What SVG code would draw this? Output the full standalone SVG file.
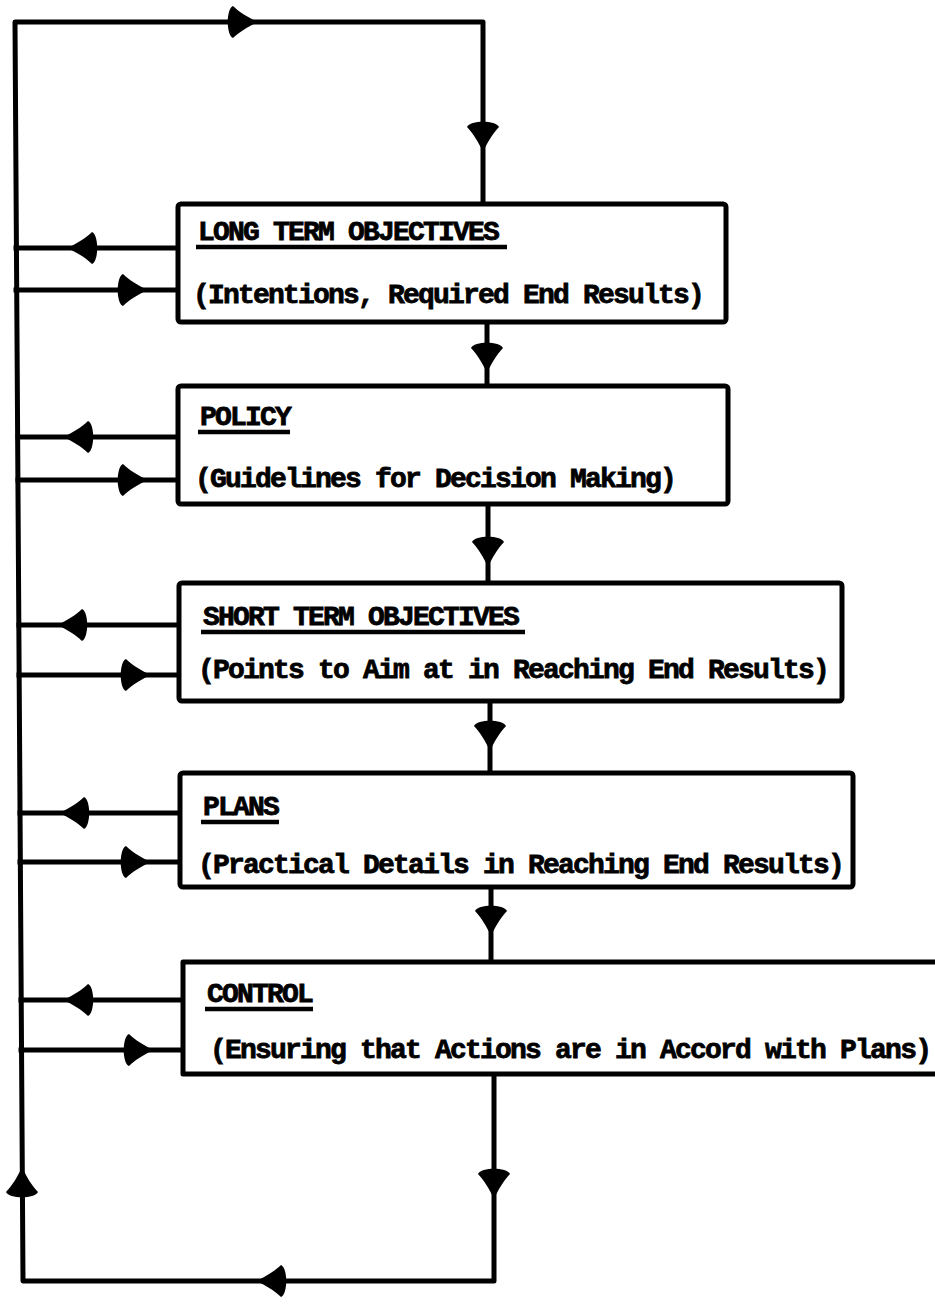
<svg xmlns="http://www.w3.org/2000/svg" xmlns:xlink="http://www.w3.org/1999/xlink" width="935" height="1305" viewBox="0 0 935 1305">
  <style>
    .ln { fill: none; stroke: #000; stroke-width: 5; stroke-linejoin: round; stroke-linecap: square; }
    .box { fill: #fff; stroke: #000; stroke-width: 5; stroke-linejoin: round; }
    .ttl, .sub { font-family: "Courier New", "Liberation Mono", monospace; font-weight: bold; font-size: 28px; letter-spacing: -1.8px; fill: #000; stroke: #000; stroke-width: 0.8; }
    .ul { stroke: #000; stroke-width: 4.5; }
  </style>
  <defs>
    <!-- teardrop arrowhead, tip at origin, pointing along +x -->
    <path id="ah" d="M2,0 C-7,-4 -17,-10 -23,-16 C-30,-13 -30,13 -23,16 C-17,10 -7,4 2,0 Z" fill="#000"/>
  </defs>
  <rect width="935" height="1305" fill="#fff"/>

  <g id="connectors">
    <!-- outer feedback loop -->
    <path class="ln" d="M494,1074 V1281 H23 L15,22 H483 V204"/>
    <!-- chain between boxes -->
    <path class="ln" d="M487,322 V386"/>
    <path class="ln" d="M488,504 V583"/>
    <path class="ln" d="M490,701 V773"/>
    <path class="ln" d="M491,887 V962"/>
    <!-- side links to the left rail -->
    <path class="ln" d="M16,248 H178 M16,290 H178"/>
    <path class="ln" d="M18,437 H178 M18,480 H178"/>
    <path class="ln" d="M19,625 H179 M19,675 H179"/>
    <path class="ln" d="M20,813 H180 M20,862 H180"/>
    <path class="ln" d="M21,1000 H183 M21,1050 H183"/>
    <!-- arrowheads -->
    <use xlink:href="#ah" transform="translate(256,22)"/>
    <use xlink:href="#ah" transform="translate(483,150) rotate(90)"/>
    <use xlink:href="#ah" transform="translate(487,371) rotate(90)"/>
    <use xlink:href="#ah" transform="translate(488,565) rotate(90)"/>
    <use xlink:href="#ah" transform="translate(490,749) rotate(90)"/>
    <use xlink:href="#ah" transform="translate(491,934) rotate(90)"/>
    <use xlink:href="#ah" transform="translate(494,1197) rotate(90)"/>
    <use xlink:href="#ah" transform="translate(258,1281) rotate(180)"/>
    <use xlink:href="#ah" transform="translate(22,1169) rotate(-90)"/>
    <use xlink:href="#ah" transform="translate(69,248) rotate(180)"/>
    <use xlink:href="#ah" transform="translate(146,290)"/>
    <use xlink:href="#ah" transform="translate(65,437) rotate(180)"/>
    <use xlink:href="#ah" transform="translate(146,480)"/>
    <use xlink:href="#ah" transform="translate(59,625) rotate(180)"/>
    <use xlink:href="#ah" transform="translate(149,675)"/>
    <use xlink:href="#ah" transform="translate(61,813) rotate(180)"/>
    <use xlink:href="#ah" transform="translate(149,862)"/>
    <use xlink:href="#ah" transform="translate(65,1000) rotate(180)"/>
    <use xlink:href="#ah" transform="translate(152,1050)"/>
  </g>

  <g id="long-term-objectives">
    <rect class="box" x="178" y="204" width="548" height="118" rx="3"/>
    <text class="ttl" x="198" y="240">LONG TERM OBJECTIVES</text>
    <line class="ul" x1="196" y1="247" x2="507" y2="247"/>
    <text class="sub" x="193" y="303">(Intentions, Required End Results)</text>
  </g>

  <g id="policy">
    <rect class="box" x="178" y="386" width="550" height="118" rx="3"/>
    <text class="ttl" x="200" y="425">POLICY</text>
    <line class="ul" x1="198" y1="432" x2="290" y2="432"/>
    <text class="sub" x="195" y="487">(Guidelines for Decision Making)</text>
  </g>

  <g id="short-term-objectives">
    <rect class="box" x="179" y="583" width="663" height="118" rx="3"/>
    <text class="ttl" x="203" y="625">SHORT TERM OBJECTIVES</text>
    <line class="ul" x1="201" y1="632" x2="525" y2="632"/>
    <text class="sub" x="198" y="678">(Points to Aim at in Reaching End Results)</text>
  </g>

  <g id="plans">
    <rect class="box" x="180" y="773" width="673" height="114" rx="3"/>
    <text class="ttl" x="203" y="815">PLANS</text>
    <line class="ul" x1="201" y1="822" x2="279" y2="822"/>
    <text class="sub" x="198" y="873">(Practical Details in Reaching End Results)</text>
  </g>

  <g id="control">
    <path d="M940,962 H183 V1074 H940" fill="#fff" stroke="#000" stroke-width="5" stroke-linejoin="round"/>
    <text class="ttl" x="207" y="1002">CONTROL</text>
    <line class="ul" x1="205" y1="1009" x2="313" y2="1009"/>
    <text class="sub" x="210" y="1058">(Ensuring that Actions are in Accord with Plans)</text>
  </g>
</svg>
